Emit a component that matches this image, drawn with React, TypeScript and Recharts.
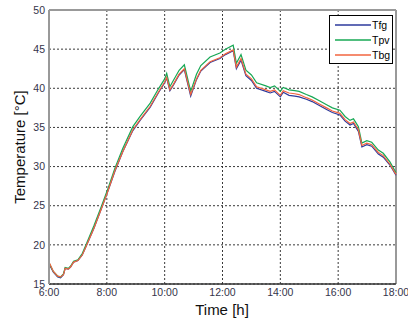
import React from 'react';
import { LineChart, Line, XAxis, YAxis, CartesianGrid, ReferenceLine, Legend } from 'recharts';

// time of day in hours
const times = [
  6.0, 6.15, 6.3, 6.4, 6.5, 6.56, 6.67, 6.75, 6.85, 7.0,
  7.15, 7.28, 7.55, 7.82, 8.05, 8.28, 8.55, 8.9, 9.15, 9.5,
  9.78, 10.0, 10.07, 10.18, 10.3, 10.5, 10.68, 10.9, 11.1, 11.25,
  11.57, 11.91, 12.1, 12.37, 12.48, 12.64, 12.81, 13.0, 13.18, 13.5,
  13.65, 13.8, 14.0, 14.1, 14.3, 14.5, 14.65, 14.9, 15.1, 15.35,
  15.6, 15.8, 16.06, 16.24, 16.41, 16.53, 16.7, 16.82, 16.99, 17.16,
  17.39, 17.56, 17.79, 18.0,
];

const tpv = [
  17.7, 16.6, 16.0, 15.9, 16.3, 17.1, 17.0, 17.3, 17.9, 18.1,
  18.9, 20.0, 22.4, 25.0, 27.3, 29.8, 32.3, 35.1, 36.4, 38.1,
  39.9, 41.2, 41.9, 40.2, 41.0, 42.3, 43.0, 39.6, 41.8, 42.9,
  44.0, 44.5, 45.0, 45.5, 43.2, 44.3, 42.3, 41.7, 40.7, 40.3,
  40.1, 40.3, 39.6, 40.1, 39.8, 39.7, 39.6, 39.2, 38.9, 38.4,
  37.9, 37.5, 37.2, 36.4, 35.9, 36.1, 35.1, 33.0, 33.3, 33.1,
  32.1, 31.7, 30.6, 29.2,
];

const tbg = [
  17.8, 16.6, 16.0, 15.9, 16.2, 17.0, 16.9, 17.2, 17.8, 18.0,
  18.7, 19.8, 22.1, 24.7, 27.0, 29.5, 31.9, 34.7, 36.0, 37.7,
  39.5, 40.8, 41.4, 39.8, 40.5, 41.8, 42.5, 39.2, 41.2, 42.3,
  43.4, 43.9, 44.4, 44.9, 42.7, 43.8, 41.8, 41.2, 40.2, 39.8,
  39.6, 39.8, 39.1, 39.7, 39.4, 39.3, 39.2, 38.8, 38.5, 38.0,
  37.5, 37.1, 36.8, 36.0, 35.5, 35.7, 34.7, 32.7, 33.0, 32.8,
  31.8, 31.4, 30.3, 29.0,
];

const tfg = [
  17.6, 16.5, 15.9, 15.8, 16.2, 17.0, 16.9, 17.2, 17.8, 18.0,
  18.7, 19.8, 22.1, 24.7, 27.0, 29.4, 31.9, 34.6, 35.9, 37.6,
  39.4, 40.7, 41.3, 39.7, 40.4, 41.7, 42.4, 39.0, 41.1, 42.2,
  43.3, 43.8, 44.3, 44.8, 42.5, 43.6, 41.6, 41.0, 40.0, 39.6,
  39.4, 39.6, 38.9, 39.5, 39.1, 39.0, 38.9, 38.6, 38.3, 37.8,
  37.3, 36.9, 36.6, 35.8, 35.3, 35.5, 34.5, 32.5, 32.8, 32.6,
  31.6, 31.2, 30.2, 28.9,
];

const xTicks = [6, 8, 10, 12, 14, 16, 18];
const yTicks = [15, 20, 25, 30, 35, 40, 45, 50];

const series = [
  { key: 'tfg', name: 'Tfg', color: '#2d3a9c' },
  { key: 'tpv', name: 'Tpv', color: '#17a855' },
  { key: 'tbg', name: 'Tbg', color: '#f2643f' },
];

const data = times.map((t, i) => ({ t, tfg: tfg[i], tpv: tpv[i], tbg: tbg[i] }));

const font = '"Liberation Sans", Arial, sans-serif';
const tickStyle = { fontSize: 10.5, fill: '#34344a', fontFamily: font };

const fmtHour = (v: number) => `${v}:00`;

function LegendBox() {
  return (
    <div style={{ width: 62, height: 47, border: '1px solid #000', background: '#fff', fontFamily: font, fontSize: 10.5 }}>
      <svg width={62} height={47}>
        {series.map((s, i) => (
          <g key={s.key}>
            <line x1={5} x2={41} y1={9 + i * 15} y2={9 + i * 15} stroke={s.color} strokeWidth={1.3} />
            <text x={42} y={13 + i * 15} fill="#000">{s.name}</text>
          </g>
        ))}
      </svg>
    </div>
  );
}

export default function App() {
  return (
    <div style={{ position: 'absolute', left: 0, top: 0, background: '#fff' }}>
      <LineChart width={408} height={322} data={data} margin={{ top: 10, right: 12, left: 0, bottom: 0 }}>
        <CartesianGrid stroke="#222" strokeDasharray="2 2" strokeWidth={0.9} />
        <XAxis
          dataKey="t"
          type="number"
          domain={[6, 18]}
          ticks={xTicks}
          tickFormatter={fmtHour}
          tick={tickStyle}
          tickSize={0}
          tickMargin={5}
          height={38}
          axisLine={{ stroke: '#333', strokeWidth: 1.5 }}
          label={{
            content: () => (
              <text x={222} y={315} textAnchor="middle" fontSize={15} fontFamily={font} fill="#111">Time [h]</text>
            ),
          }}
        />
        <YAxis
          type="number"
          domain={[15, 50]}
          ticks={yTicks}
          tick={tickStyle}
          tickSize={0}
          tickMargin={4}
          width={49}
          axisLine={{ stroke: '#999', strokeWidth: 2 }}
          label={{
            content: () => (
              <text x={25} y={147} transform="rotate(-90 25 147)" textAnchor="middle" fontSize={15} fontFamily={font} fill="#111">
                Temperature [°C]
              </text>
            ),
          }}
        />
        <ReferenceLine y={50} stroke="#999" strokeWidth={2} />
        <ReferenceLine x={18} stroke="#999" strokeWidth={2} />
        {series.map((s) => (
          <Line
            key={s.key}
            type="linear"
            dataKey={s.key}
            name={s.name}
            stroke={s.color}
            strokeWidth={1.2}
            dot={false}
            isAnimationActive={false}
          />
        ))}
        <Legend
          layout="vertical"
          align="center"
          verticalAlign="middle"
          content={() => <LegendBox />}
          wrapperStyle={{ position: 'absolute', left: 329, top: 15, width: 64, height: 49 }}
        />
      </LineChart>
    </div>
  );
}
